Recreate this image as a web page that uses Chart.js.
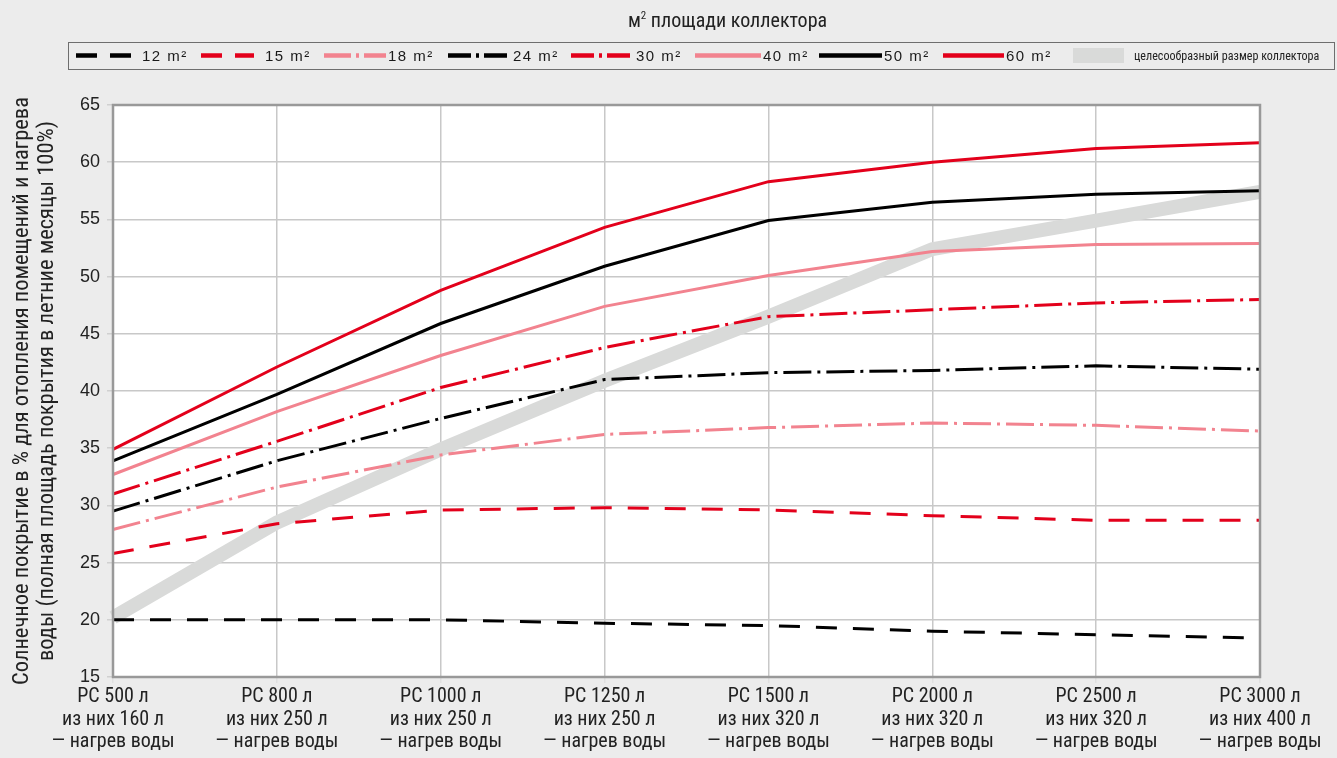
<!DOCTYPE html>
<html>
<head>
<meta charset="utf-8">
<script src="https://cdn.jsdelivr.net/npm/chart.js@4"></script>
<style>
  html, body { margin:0; padding:0; background:#ececec; }
  #wrap { position:relative; width:1337px; height:758px; overflow:hidden; }
  canvas { position:absolute; left:0; top:0; }
  .narrow { font-family:'Liberation Sans Narrow','Roboto Condensed','DejaVu Sans Condensed',sans-serif; }
  #title { position:absolute; left:0; width:1455px; top:8px; text-align:center; font-size:20px; color:#222; }
  #title sup { font-size:11px; vertical-align:8px; }
  #legend { position:absolute; left:68px; top:42px; width:1267px; height:28px; border:1.5px solid #6e6e6e; box-sizing:border-box; }
  .item { position:absolute; top:0; height:100%; }
  .lab { position:absolute; top:4px; font-family:'Liberation Sans',Arial,sans-serif; font-size:15px; letter-spacing:1.5px; color:#1a1a1a; white-space:nowrap; }
  .lab2 { position:absolute; top:5px; font-size:13px; color:#222; white-space:nowrap; transform:scaleX(0.93); transform-origin:left center; }
  svg { position:absolute; left:0; top:0; }
</style>
</head>
<body>
<div id="wrap">
  <canvas id="c" width="1337" height="758"></canvas>
  <div id="title" class="narrow">м<sup>2</sup> площади коллектора</div>
  <div id="legend"></div>
</div>
<script>
// ---- data ----
const categories = [
  ['PC 500 л', 'из них 160 л', '— нагрев воды'],
  ['PC 800 л', 'из них 250 л', '— нагрев воды'],
  ['PC 1000 л', 'из них 250 л', '— нагрев воды'],
  ['PC 1250 л', 'из них 250 л', '— нагрев воды'],
  ['PC 1500 л', 'из них 320 л', '— нагрев воды'],
  ['PC 2000 л', 'из них 320 л', '— нагрев воды'],
  ['PC 2500 л', 'из них 320 л', '— нагрев воды'],
  ['PC 3000 л', 'из них 400 л', '— нагрев воды']
];
const s12 = [20.0, 20.0, 20.0, 19.7, 19.5, 19.0, 18.7, 18.4];
const s15 = [25.8, 28.4, 29.6, 29.8, 29.6, 29.1, 28.7, 28.7];
const s18 = [27.9, 31.6, 34.4, 36.2, 36.8, 37.2, 37.0, 36.5];
const s24 = [29.5, 33.9, 37.6, 41.0, 41.6, 41.8, 42.2, 41.9];
const s30 = [31.0, 35.6, 40.3, 43.8, 46.5, 47.1, 47.7, 48.0];
const s40 = [32.7, 38.2, 43.1, 47.4, 50.1, 52.2, 52.8, 52.9];
const s50 = [33.9, 39.7, 45.9, 50.9, 54.9, 56.5, 57.2, 57.5];
const s60 = [34.9, 42.1, 48.8, 54.3, 58.3, 60.0, 61.2, 61.7];
const optimal = [20.2, 28.5, 34.9, 40.9, 46.5, 52.4, 54.9, 57.4];
const seriesNames = ['12 m²', '15 m²', '18 m²', '24 m²', '30 m²', '40 m²', '50 m²', '60 m²'];
const optimalName = 'целесообразный размер коллектора';
const yTitle = ['Солнечное покрытие в % для отопления помещений и нагрева', 'воды (полная площадь покрытия в летние месяцы 100%)'];

// ---- styles ----
const RED = '#e3001b', PINK = '#f2838f', BLACK = '#000000', BAND = '#d9dad9';
const DASH = [21, 16], DASHDOT = [28, 6, 3, 6];
const styles = [
  {c: BLACK, d: DASH}, {c: RED, d: DASH}, {c: PINK, d: DASHDOT}, {c: BLACK, d: DASHDOT},
  {c: RED, d: DASHDOT}, {c: PINK, d: []}, {c: BLACK, d: []}, {c: RED, d: []}
];
const seriesData = [s12, s15, s18, s24, s30, s40, s50, s60];

const datasets = seriesData.map((d, i) => ({
  label: seriesNames[i], data: d, borderColor: styles[i].c, borderDash: styles[i].d,
  borderWidth: 3, pointRadius: 0, fill: false, tension: 0, order: 1
}));
datasets.push({ label: optimalName, data: optimal, borderColor: BAND, borderWidth: 14,
  pointRadius: 0, fill: false, tension: 0, order: 5, borderCapStyle: 'butt' });

const NARROW = "'Liberation Sans Narrow','Roboto Condensed','DejaVu Sans Condensed',sans-serif";

const areaPlugin = {
  id: 'area',
  beforeDraw(chart) {
    const {ctx, chartArea: a} = chart;
    ctx.save(); ctx.fillStyle = '#ffffff';
    ctx.fillRect(a.left, a.top, a.right - a.left, a.bottom - a.top); ctx.restore();
  },
  afterDatasetsDraw(chart) {
    const {ctx, chartArea: a} = chart;
    ctx.save(); ctx.strokeStyle = '#999999'; ctx.lineWidth = 2.5;
    ctx.strokeRect(a.left, a.top, a.right - a.left, a.bottom - a.top); ctx.restore();
  }
};

new Chart(document.getElementById('c'), {
  type: 'line',
  data: { labels: categories, datasets },
  plugins: [areaPlugin],
  options: {
    responsive: false, animation: false,
    layout: { padding: { top: 105, right: 77, left: 0, bottom: 0 } },
    plugins: { legend: { display: false }, tooltip: { enabled: false } },
    scales: {
      x: {
        offset: false,
        grid: { color: '#c8c8c8', lineWidth: 1.5, tickLength: 6, tickColor: '#e0e0e0' },
        border: { display: false },
        ticks: { color: '#222', padding: 3, maxRotation: 0, autoSkip: false,
          font: { family: NARROW, size: 20, lineHeight: 1.12 } },
        afterFit(s) { s.height = 81; }
      },
      y: {
        min: 15, max: 65,
        grid: { color: '#c8c8c8', lineWidth: 1.5, tickLength: 6, tickColor: '#d0d0d0' },
        border: { display: false },
        ticks: { stepSize: 5, color: '#222', padding: 7,
          font: { family: "'Liberation Sans',Arial,sans-serif", size: 18 } },
        title: { display: true, text: yTitle, color: '#222',
          font: { family: NARROW, size: 22.5, lineHeight: 1.11 }, padding: { top: 10, bottom: 0 } },
        afterFit(s) { s.width = 113; }
      }
    }
  }
});

// ---- HTML legend ----
const legend = document.getElementById('legend');
const lx = [7, 132, 255, 379, 502, 626, 750, 874];   // sample start relative to legend box
const lw = [55, 53, 62, 63, 63, 66, 63, 61];
const legendDash = ['21 13', '21 13', '27 5 3 5', '23 5 3 5', '23 5 3 5', '', '', ''];
seriesNames.forEach((n, i) => {
  const it = document.createElement('div'); it.className = 'item';
  it.style.left = lx[i] + 'px';
  const w = lw[i];
  it.innerHTML = `<svg width="${w}" height="26"><line x1="0" y1="12.5" x2="${w}" y2="12.5" stroke="${styles[i].c}" stroke-width="4.5" ${legendDash[i] ? `stroke-dasharray="${legendDash[i]}"` : ''}/></svg>` +
    `<span class="lab" style="left:${w + (i < 2 ? 11 : 2)}px">${n}</span>`;
  legend.appendChild(it);
});
const ob = document.createElement('div'); ob.className = 'item'; ob.style.left = '1004px';
ob.innerHTML = `<div style="position:absolute;left:0;top:5px;width:51px;height:15px;background:${BAND}"></div>` +
  `<span class="lab2 narrow" style="left:61px">${optimalName}</span>`;
legend.appendChild(ob);
</script>
</body>
</html>
